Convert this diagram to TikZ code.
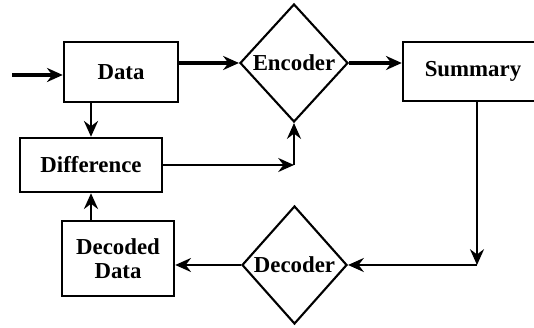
\documentclass[tikz,border=0pt]{standalone}
\usepackage{fontspec}
\newfontfamily\boxfont{Liberation Serif}
\usetikzlibrary{arrows.meta, shapes.geometric, calc}

\tikzset{
  blockbox/.style={draw, line width=1.4pt, fill=white, inner sep=2pt, align=center,
    font=\boxfont\fontsize{13}{14}\selectfont\bfseries},
  coderbox/.style={draw, diamond, line width=1.2pt, fill=white, inner sep=0pt,
    font=\boxfont\fontsize{13}{14}\selectfont\bfseries},
  flow/.style={-{Stealth[length=9pt, width=8pt, inset=3pt]}, line width=1.1pt},
  thickflow/.style={flow, line width=2.4pt},
}

\begin{document}
\begin{tikzpicture}
    \useasboundingbox (0,0) rectangle (10.68,6.56);
    \clip (0,0) rectangle (10.68,6.56);

    \node[blockbox, minimum width=2.28cm, minimum height=1.2cm] (data) at (2.42,5.12) {Data};
    \node[blockbox, minimum width=2.84cm, minimum height=1.08cm] (diff) at (1.82,3.26) {Difference};
    \node[blockbox, minimum width=2.24cm, minimum height=1.5cm] (decoded) at (2.36,1.39) {Decoded\\Data};
    \node[blockbox, minimum width=2.8cm, minimum height=1.18cm] (summary) at (9.46,5.13) {Summary};
    \node[coderbox, minimum width=2.16cm, minimum height=2.36cm] (encoder) at (5.88,5.3) {Encoder};
    \node[coderbox, minimum width=2.1cm, minimum height=2.36cm] (decoder) at (5.89,1.26) {Decoder};

    \coordinate (in) at (0.24,5.06);
    \coordinate (corner) at (encoder.south |- diff.east);
    \coordinate (turn) at (9.54,1.26);

    \draw[thickflow] (in) -- (data.west |- in);
    \draw[thickflow] (data.east |- encoder.west) -- (encoder.west);
    \draw[thickflow] (encoder.east) -- (summary.west |- encoder.east);
    \draw[flow, line width=1.7pt] (data.south -| diff.north) -- (diff.north);
    \draw[flow] (diff.east) -- (corner);
    \draw[flow] (corner) -- (encoder.south);
    \draw[flow] (summary.south -| turn) -- (turn);
    \draw[flow] (turn) -- (decoder.east);
    \draw[flow] (decoder.west) -- (decoded.east |- decoder.west);
    \draw[flow, line width=1.7pt] (decoded.north -| diff.south) -- (diff.south);

\end{tikzpicture}
\end{document}
